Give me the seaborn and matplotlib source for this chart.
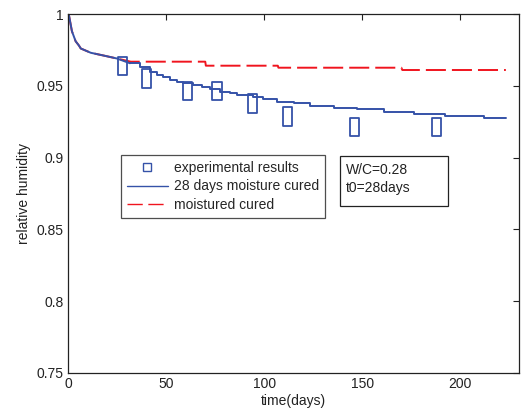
import matplotlib
matplotlib.use("Agg")
import matplotlib.pyplot as plt
import seaborn as sns
from matplotlib.lines import Line2D
from matplotlib.markers import MarkerStyle
from matplotlib.path import Path
from matplotlib.patches import Rectangle

# ---- data ----
exp_days = [28, 40, 61, 76, 94, 112, 146, 188]
exp_rh = [0.9638, 0.9550, 0.9464, 0.9464, 0.9377, 0.9286, 0.9213, 0.9213]

cured28_days = [0, 0.5, 2, 3.9, 5.6, 6.5, 11.6, 18.4, 25, 31.6, 36.7, 41.8, 45.3,
                48.6, 52, 55.5, 58.8, 63.9, 68.2, 72.4, 77.6, 82.7, 86.1, 94.5,
                99.6, 106.5, 115, 123.5, 135.4, 147.3, 160.9, 176.2, 192.3, 211.9, 223.3]
cured28_rh = [1.0, 0.999, 0.988, 0.981, 0.978, 0.976, 0.973, 0.971, 0.969, 0.9657,
              0.9633, 0.9598, 0.9575, 0.9559, 0.954, 0.9524, 0.9517, 0.9506, 0.949,
              0.9476, 0.9459, 0.9448, 0.9436, 0.9424, 0.9406, 0.9389, 0.9378, 0.9361,
              0.9347, 0.9335, 0.932, 0.9304, 0.929, 0.9274, 0.9274]

moist_days = [0, 0.5, 2, 3.9, 5.6, 6.5, 11.6, 18.4, 25, 32, 70, 70.3, 107, 107.3,
              170, 170.5, 223.3]
moist_rh = [1.0, 0.999, 0.988, 0.981, 0.978, 0.976, 0.973, 0.971, 0.969, 0.9668,
            0.9668, 0.964, 0.964, 0.9626, 0.9626, 0.961, 0.961]

x_ticks = [0, 50, 100, 150, 200]
y_ticks = [0.75, 0.8, 0.85, 0.9, 0.95, 1.0]
y_tick_labels = ["0.75", "0.8", "0.85", "0.9", "0.95", "1"]

legend_labels = ["experimental results", "28 days moisture cured", "moistured cured"]
note_text = "W/C=0.28\nt0=28days"

BLUE = "#3552a8"
RED = "#f0141e"
INK = "#222222"
FS = 10

sns.set_theme(style="white")
plt.rcParams["font.family"] = ["Liberation Sans", "DejaVu Sans"]

fig = plt.figure(figsize=(5.29, 4.16), dpi=100)
ax = fig.add_axes([68 / 529, 1 - 373 / 416, (519 - 68) / 529, (373 - 14) / 416])


def px2ax(px, py):
    return (px - 68) / 451, (373 - py) / 359


sns.lineplot(x=moist_days, y=moist_rh, estimator=None, sort=False, color=RED,
             linewidth=1.4, ax=ax)
ax.lines[-1].set_dashes((10.3, 3.1))

n_curve = 9  # initial smooth part of the curve, then stepped part
sns.lineplot(x=cured28_days[:n_curve + 1], y=cured28_rh[:n_curve + 1], estimator=None,
             sort=False, color=BLUE, linewidth=1.4, ax=ax)
sns.lineplot(x=cured28_days[n_curve:], y=cured28_rh[n_curve:], estimator=None,
             sort=False, color=BLUE, linewidth=1.4, drawstyle="steps-post", ax=ax)

rect = MarkerStyle(Path([(-0.5, -1), (0.5, -1), (0.5, 1), (-0.5, 1), (-0.5, -1)],
                        [Path.MOVETO, Path.LINETO, Path.LINETO, Path.LINETO, Path.CLOSEPOLY]))
sns.scatterplot(x=exp_days, y=exp_rh, marker=rect, s=175, facecolor="none",
                edgecolor=BLUE, linewidth=1.3, ax=ax, zorder=5)

ax.set_xlim(0, 230)
ax.set_ylim(0.75, 1.0)
ax.set_xticks(x_ticks)
ax.set_xticklabels([str(t) for t in x_ticks])
ax.set_yticks(y_ticks)
ax.set_yticklabels(y_tick_labels)
ax.tick_params(direction="in", length=4, width=0.8, top=True, right=True,
               labelsize=FS, colors=INK, pad=3)
for sp in ax.spines.values():
    sp.set_color(INK)
    sp.set_linewidth(0.9)
    sp.set_visible(True)

ax.set_xlabel("time(days)", fontsize=FS, color=INK, labelpad=2)
ax.set_ylabel("relative humidity", fontsize=FS, color=INK, labelpad=4)

handles = [
    Line2D([], [], linestyle="none", marker="s", markersize=6, markerfacecolor="none",
           markeredgecolor=BLUE, markeredgewidth=1.0),
    Line2D([], [], color=BLUE, linewidth=1.0),
    Line2D([], [], color=RED, linewidth=1.0, dashes=(11, 4)),
]
leg = ax.legend(handles, legend_labels, loc="upper left",
                bbox_to_anchor=px2ax(121, 155),
                frameon=True, fancybox=False, fontsize=FS, handlelength=3.0,
                handletextpad=0.45, labelspacing=0.35, borderpad=0.4,
                borderaxespad=0)
leg.get_frame().set_edgecolor(INK)
leg.get_frame().set_linewidth(0.9)

x0, y1 = px2ax(340, 156)
x1, y0 = px2ax(448, 206)
ax.add_patch(Rectangle((x0, y0), x1 - x0, y1 - y0, transform=ax.transAxes,
                       facecolor="white", edgecolor=INK, linewidth=0.9, zorder=6))
tx, ty = px2ax(346, 163)
ax.text(tx, ty, note_text, transform=ax.transAxes, fontsize=FS, va="top",
        ha="left", linespacing=1.35, color=INK, zorder=7)

fig.savefig("out.png", dpi=100)
